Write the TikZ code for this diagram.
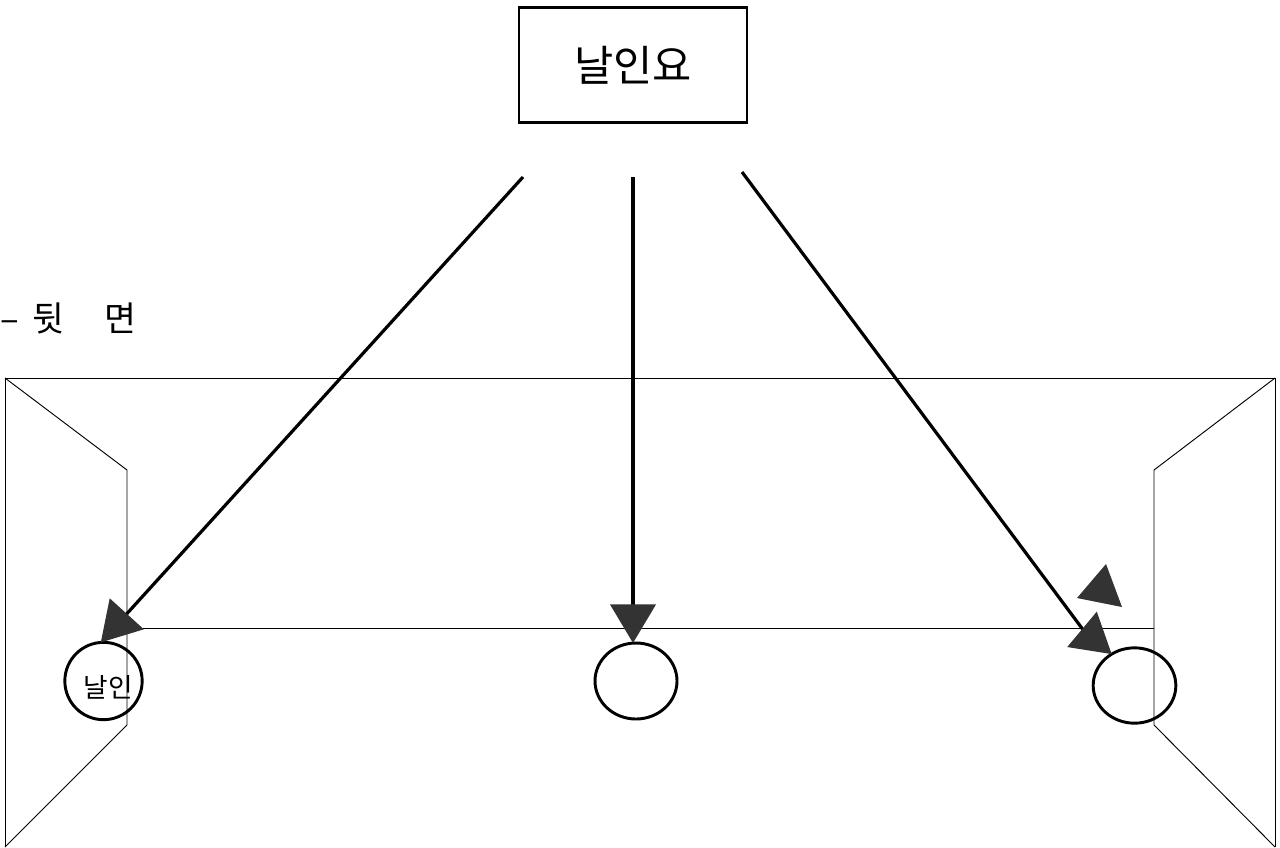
\documentclass[tikz,border=0pt]{standalone}
\usepackage{fontspec}
\usepackage{xcolor}
\usetikzlibrary{arrows.meta, shapes.geometric}
\newfontfamily\krfont{Noto Sans CJK KR}
\definecolor{cHead}{RGB}{51,51,51}
\tikzset{
	titlebox/.style={rectangle, draw=black, line width=2.2pt, minimum width=171pt, minimum height=86pt, inner sep=0pt, font=\krfont\fontsize{32}{32}\selectfont},
	seal/.style={ellipse, draw=black, line width=2.2pt, inner sep=0pt, outer sep=0pt},
	thinwall/.style={draw=black, line width=0.7pt},
	callout/.style={-{Triangle[length=29pt, width=34pt, fill=cHead, color=cHead]}, line width=2.4pt},
}
\begin{document}
\begin{tikzpicture}[x=0.75pt, y=-0.75pt]
	\useasboundingbox (0,0) rectangle (1280,847);
	% walls
	\draw[thinwall] (5,847) -- (5,378) -- (1275,378) -- (1275,847);
	\draw[thinwall] (5,378) -- (127,470) -- (127,725) -- (5,847);
	\draw[thinwall] (1275,378) -- (1154,470) -- (1154,725) -- (1275,847);
	\draw[thinwall] (127,628) -- (1154,628);
	% seals
	\node[seal, minimum width=58pt, minimum height=58pt] (sealL) at (103.5,681) {};
	\node[seal, minimum width=61.5pt, minimum height=57pt] (sealM) at (636,681) {};
	\node[seal, minimum width=62pt, minimum height=56.5pt] (sealR) at (1134.5,685.5) {};
	\node[font=\krfont\fontsize{20}{20}\selectfont, inner sep=0pt] (sealtext) at (108,687) {날인};
	% top box and labels
	\node[titlebox] (req) at (633,65) {\raisebox{-2.5pt}{날인요}};
	\node[font=\krfont\fontsize{26}{26}\selectfont, anchor=west, inner sep=0pt] (side) at (0,318) {–\hspace{0.4em}뒷\hspace{1.15em}면};
	% callouts
	\coordinate (fromL) at (523,177);
	\coordinate (fromM) at (633,177);
	\coordinate (fromR) at (742,172);
	\coordinate (bendR) at (1084,631);
	\draw[callout] (fromL) -- (sealL.94);
	\draw[callout] (fromM) -- (fromM |- sealM.north);
	\draw[callout] (fromR) -- (bendR) -- (sealR.126);
	% loose head
	\fill[cHead] (1106,564) -- (1077,598) -- (1122,607) -- cycle;
\end{tikzpicture}
\end{document}
